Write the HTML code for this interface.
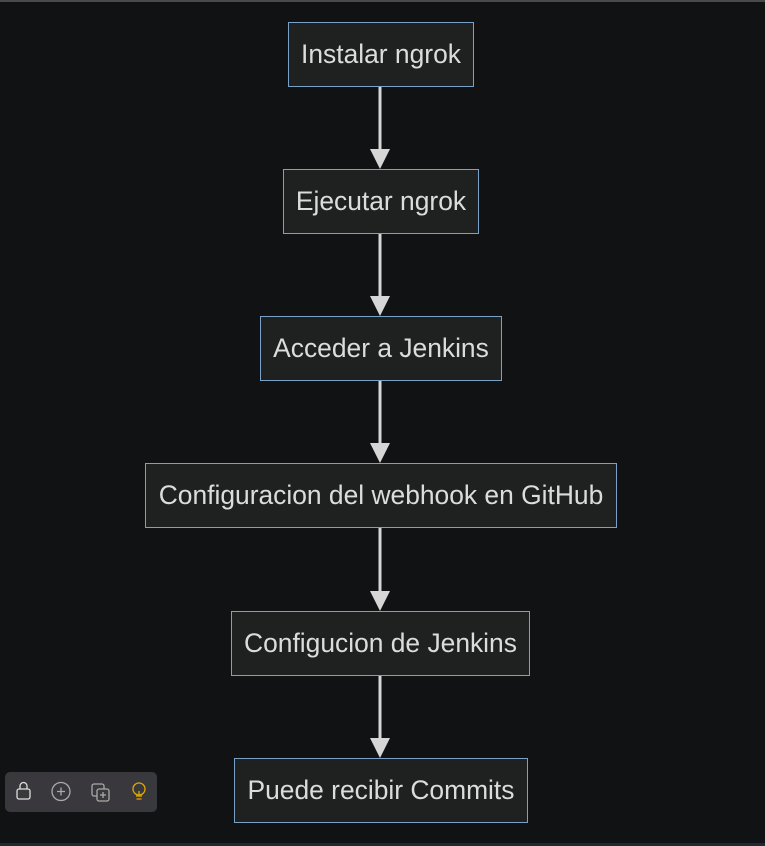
<!DOCTYPE html>
<html><head><style>
html,body{margin:0;padding:0;background:#111214;width:765px;height:846px;overflow:hidden;position:relative;font-family:"Liberation Sans",sans-serif}
.top{position:absolute;left:0;top:0;width:765px;height:2px;background:#4a4a4a}
.bot{position:absolute;left:0;top:843px;width:765px;height:3px;background:#1c2a36}
.b{position:absolute;box-sizing:border-box;border:1.5px solid #7aa2c8;background:#1f2121;color:#dcdcdc;font-size:26.4px;display:flex;align-items:center;justify-content:center;height:65px;white-space:nowrap}
.tb{position:absolute;left:5px;top:772px;width:152px;height:40px;background:#39393d;border-radius:5px}
</style></head><body>
<div class="top"></div>
<svg width="765" height="846" style="position:absolute;left:0;top:0">
<g stroke="#d6d6d6" stroke-width="3">
<line x1="380" y1="87" x2="380" y2="152"/>
<line x1="380" y1="234" x2="380" y2="299"/>
<line x1="380" y1="381" x2="380" y2="446"/>
<line x1="380" y1="528" x2="380" y2="594"/>
<line x1="380" y1="675" x2="380" y2="741"/>
</g>
<g fill="#d6d6d6">
<polygon points="370,149 390,149 380,169"/>
<polygon points="370,296 390,296 380,316"/>
<polygon points="370,443 390,443 380,463"/>
<polygon points="370,591 390,591 380,611"/>
<polygon points="370,738 390,738 380,758"/>
</g>
</svg>
<div class="b" style="left:288px;top:22px;width:186px">Instalar ngrok</div>
<div class="b" style="left:283px;top:169px;width:196px">Ejecutar ngrok</div>
<div class="b" style="left:260px;top:316px;width:242px">Acceder a Jenkins</div>
<div class="b" style="left:145px;top:463px;width:472px">Configuracion del webhook en GitHub</div>
<div class="b" style="left:231px;top:611px;width:299px">Configucion de Jenkins</div>
<div class="b" style="left:234px;top:758px;width:294px">Puede recibir Commits</div>
<div class="tb">
<svg width="152" height="40">
<g fill="none" stroke="#ddd" stroke-width="1.3">
<rect x="12" y="17" width="13" height="10" rx="2"/>
<path d="M15 17 v-3 a3.5 3.5 0 0 1 7 0 v3"/>
<circle cx="56" cy="19.5" r="9" stroke="#aaa"/>
<path d="M56 15.5v8M52 19.5h8" stroke="#aaa"/>
<rect x="87" y="12" width="12" height="12" rx="2" stroke="#aaa"/>
<rect x="92" y="17" width="12" height="12" rx="2" stroke="#aaa" fill="#39393d"/>
<path d="M98 20v6M95 23h6" stroke="#aaa"/>
<g stroke="#e0a800"><circle cx="134" cy="17" r="6"/><path d="M131 24h6M131.5 27h5M134 19v5"/></g>
</g>
</svg>
</div>
<div class="bot"></div>
</body></html>
